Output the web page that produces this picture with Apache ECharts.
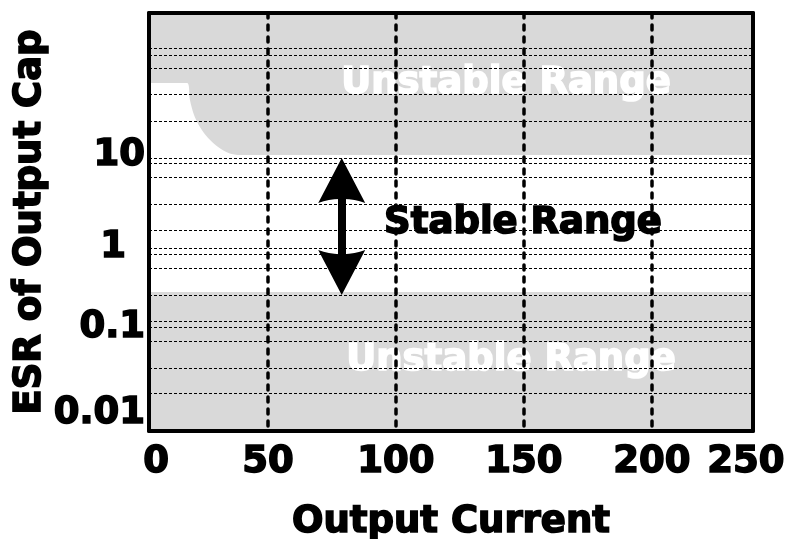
<!DOCTYPE html>
<html>
<head>
<meta charset="utf-8">
<script src="https://cdn.jsdelivr.net/npm/echarts@6/dist/echarts.min.js"></script>
<style>
  html, body { margin: 0; padding: 0; background: #ffffff; }
  #chart { width: 787px; height: 539px; }
</style>
</head>
<body>
<div id="chart"></div>
<script>
// ---- Data ----
const currentRange = [3.5, 239.5];                 // x extent of the plot box (Output Current)
const esrRange = [0.00618, 448];                    // y extent of the plot box (ESR, log)
const currentGridValues = [50, 100, 150, 200];      // vertical dashed grid lines
const currentLabelValues = [6.25, 50, 100, 150, 200, 236.7];
const currentLabelTexts = ['0', '50', '100', '150', '200', '250'];
const esrLabelValues = [0.01, 0.1, 1, 10];
const esrLabelTexts = ['0.01', '0.1', '1', '10'];
const esrGridValues = [175.5, 145.5, 102.7, 51.2, 24.9,
                       9.23, 8.07, 5.55, 2.69, 1.34,
                       0.829, 0.706, 0.485, 0.236,
                       0.117, 0.100, 0.0687, 0.0334, 0.0171];
// upper boundary of the stable range (white area below it)
const upperCurrent = [3.5, 18.4, 19.5, 21.1, 23.4, 26.6, 30.5, 34.8, 39.1, 239.5];
const upperEsr     = [68.7, 68.7, 43.6, 29.2, 21.2, 15.8, 12.4, 10.5, 10.0, 10.0];
// lower boundary of the stable range (grey below it)
const lowerCurrent = [3.5, 239.5];
const lowerEsr     = [0.255, 0.255];
// double arrow marking the stable range
const arrowCurrent = 78.8;
const arrowEsr = [0.430, 5.05];

const FONT = 'DejaVu Sans';
const GREY = '#d9d9d9';
const HEAVY = { fontFamily: FONT, fontWeight: 'bold', fontSize: 37, color: '#000',
                textBorderColor: '#000', textBorderWidth: 1.6 };

const chart = echarts.init(document.getElementById('chart'), null, { renderer: 'canvas' });

const toPairs = (xs, ys) => xs.map((x, i) => [x, ys[i]]);

const arrowHead = 'path://M50,0 L100,100 Q75,90 50,91 Q25,90 0,100 Z';

chart.setOption({
  animation: false,
  backgroundColor: '#ffffff',
  grid: {
    left: 149, right: 34, top: 13, bottom: 108,
    containLabel: false,
    outerBoundsMode: 'none',
    show: true, backgroundColor: GREY, borderWidth: 0
  },
  xAxis: [{
    type: 'value',
    min: currentRange[0], max: currentRange[1],
    z: 10,
    name: 'Output Current',
    nameLocation: 'middle',
    nameGap: 73,
    nameMoveOverlap: false,
    nameTextStyle: HEAVY,
    axisLine: { show: true, onZero: false, lineStyle: { color: '#000', width: 4 } },
    axisTick: { show: false, customValues: currentGridValues },
    splitLine: { show: true, lineStyle: { color: '#000', width: 3.5, type: [5, 7], cap: 'round' } },
    axisLabel: Object.assign({
      customValues: currentLabelValues,
      formatter: v => currentLabelTexts[currentLabelValues.indexOf(v)],
      margin: 13
    }, HEAVY)
  }, {
    type: 'value', position: 'top',
    min: currentRange[0], max: currentRange[1],
    z: 10,
    axisLine: { show: true, onZero: false, lineStyle: { color: '#000', width: 4 } },
    axisTick: { show: false }, axisLabel: { show: false }, splitLine: { show: false }
  }],
  yAxis: [{
    type: 'log', logBase: 10,
    min: esrRange[0], max: esrRange[1],
    z: 10,
    name: 'ESR of Output Cap',
    nameLocation: 'middle',
    nameGap: 100,
    nameRotate: 90,
    nameMoveOverlap: false,
    nameTextStyle: HEAVY,
    axisLine: { show: true, onZero: false, lineStyle: { color: '#000', width: 4 } },
    axisTick: { show: false, customValues: esrGridValues },
    splitLine: { show: true, lineStyle: { color: '#000', width: 1, type: [3, 2] } },
    axisLabel: Object.assign({
      customValues: esrLabelValues,
      formatter: v => {
        const t = esrLabelTexts[esrLabelValues.indexOf(v)];
        return t === '1' ? '{one|' + t + '}' : '{n|' + t + '}';
      },
      rich: {
        n: Object.assign({}, HEAVY),
        one: Object.assign({ padding: [12, 19, 0, 0] }, HEAVY)
      },
      margin: 4
    }, HEAVY)
  }, {
    type: 'log', logBase: 10, position: 'right',
    min: esrRange[0], max: esrRange[1],
    z: 10,
    axisLine: { show: true, onZero: false, lineStyle: { color: '#000', width: 4 } },
    axisTick: { show: false }, axisLabel: { show: false }, splitLine: { show: false }
  }],
  series: [{
    name: 'Stable upper bound',
    type: 'line',
    z: 1,
    data: toPairs(upperCurrent, upperEsr),
    showSymbol: false,
    smooth: 0.3,
    lineStyle: { width: 0, color: '#fff' },
    areaStyle: { color: '#ffffff', opacity: 1, origin: 'start' },
    silent: true
  }, {
    name: 'Stable lower bound',
    type: 'line',
    z: 1,
    data: toPairs(lowerCurrent, lowerEsr),
    showSymbol: false,
    lineStyle: { width: 0, color: GREY },
    areaStyle: { color: GREY, opacity: 1, origin: 'start' },
    silent: true
  }, {
    name: 'Arrow',
    type: 'line',
    z: 4,
    data: [],
    markLine: {
      silent: true,
      z: 4,
      symbol: [arrowHead, arrowHead],
      symbolSize: [47, 45],
      label: { show: false },
      lineStyle: { color: '#000', width: 8, type: 'solid' },
      data: [[{ coord: [arrowCurrent, arrowEsr[0]] }, { coord: [arrowCurrent, arrowEsr[1]] }]],
      emphasis: { disabled: true }
    }
  }],
  graphic: [{
    type: 'text', z: 3, x: 506, y: 83,
    style: { text: 'Unstable Range', fill: '#ffffff', stroke: '#ffffff', lineWidth: 1.6,
             font: 'bold 37px "DejaVu Sans"', align: 'center', verticalAlign: 'middle' }
  }, {
    type: 'text', z: 3, x: 523, y: 223,
    style: { text: 'Stable Range', fill: '#000000', stroke: '#000000', lineWidth: 1.6,
             font: 'bold 37px "DejaVu Sans"', align: 'center', verticalAlign: 'middle' }
  }, {
    type: 'text', z: 3, x: 511, y: 360,
    style: { text: 'Unstable Range', fill: '#ffffff', stroke: '#ffffff', lineWidth: 1.6,
             font: 'bold 37px "DejaVu Sans"', align: 'center', verticalAlign: 'middle' }
  }]
});
</script>
</body>
</html>
